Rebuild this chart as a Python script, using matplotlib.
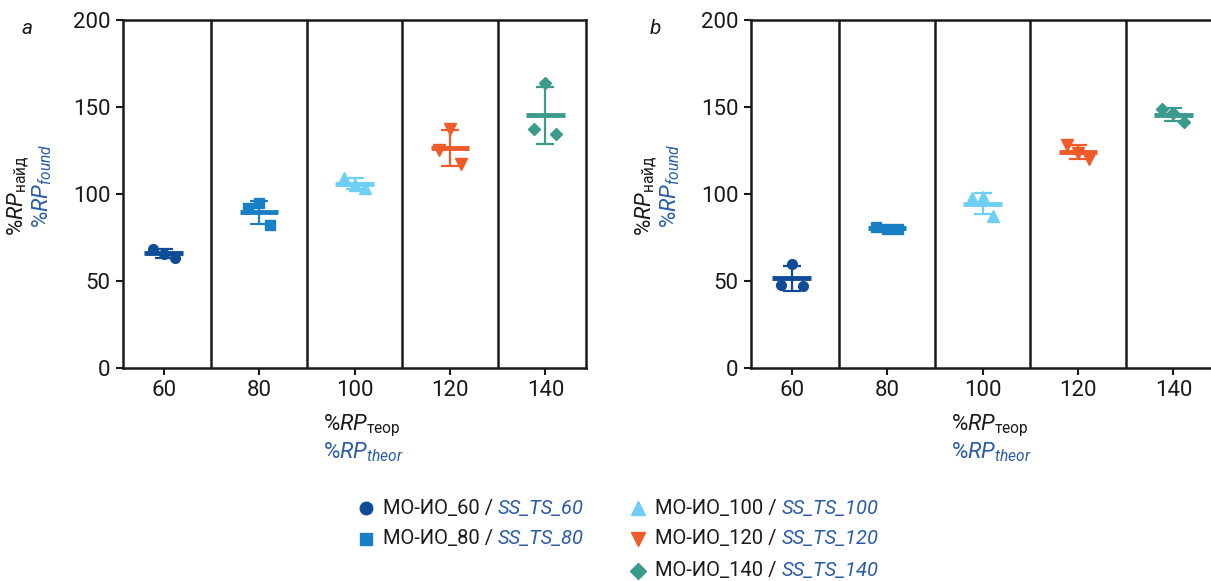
import numpy as np
import matplotlib
matplotlib.use("Agg")
import matplotlib.pyplot as plt

plt.rcParams['font.family'] = ['Roboto', 'DejaVu Sans']
plt.rcParams['mathtext.fontset'] = 'custom'
plt.rcParams['mathtext.rm'] = 'Roboto'
plt.rcParams['mathtext.it'] = 'Roboto:italic'

# theoretical levels, %
levels = [60, 80, 100, 120, 140]

# found values, three replicates per level
found_a = [[68.6, 65.8, 63.3],
           [91.7, 94.9, 82.1],
           [109.3, 104.9, 103.7],
           [125.2, 137.5, 117.0],
           [137.3, 164.0, 134.2]]
found_b = [[47.8, 59.7, 46.9],
           [81.1, 79.8, 79.8],
           [97.6, 98.0, 87.3],
           [128.0, 123.8, 120.4],
           [148.7, 146.4, 141.6]]

names_ru = ["МО-ИО_60", "МО-ИО_80", "МО-ИО_100", "МО-ИО_120", "МО-ИО_140"]
names_en = ["SS_TS_60", "SS_TS_80", "SS_TS_100", "SS_TS_120", "SS_TS_140"]
colors = ["#0f4c97", "#1a80c6", "#6dcff6", "#f15a29", "#3a9a8c"]
markers = ["o", "s", "^", "v", "D"]
msizes = [7, 7, 8, 8, 6]
dividers = [70, 90, 110, 130]

BLUE = "#2a5ca8"
W, H = 1211, 581

fig = plt.figure(figsize=(W / 100, H / 100), dpi=100)


def px(x, y):
    # pixel coords (top-left origin) -> figure fraction
    return x / W, 1 - y / H


def draw_panel(left_px, data):
    ax = fig.add_axes([left_px / W, 1 - 368 / H, 463 / W, 348 / H])
    for i, lev in enumerate(levels):
        vals = np.array(data[i])
        m = vals.mean()
        sd = vals.std(ddof=1)
        c = colors[i]
        ax.errorbar(lev, m, yerr=sd, fmt="none", ecolor=c, elinewidth=1.6,
                    capsize=6.5, capthick=1.6, zorder=3)
        ax.hlines(m, lev - 4, lev + 4, color=c, lw=3.5, zorder=3)
        ax.plot(lev + np.array([-2.3, 0, 2.3]), vals, ls="none",
                marker=markers[i], ms=msizes[i], color=c, mec=c, zorder=4)
    for d in dividers:
        ax.axvline(d, color="#1a1a1a", lw=1.8, zorder=1)
    ax.set_xlim(51.5, 148.5)
    ax.set_ylim(0, 200)
    ax.set_xticks(levels)
    ax.set_yticks([0, 50, 100, 150, 200])
    for s in ax.spines.values():
        s.set_linewidth(1.8)
        s.set_color("#1a1a1a")
    ax.tick_params(direction="out", length=5, width=1.5, labelsize=16,
                   colors="#1a1a1a", pad=4)
    return ax


ax_a = draw_panel(123, found_a)
ax_b = draw_panel(751, found_b)

ylab_k = r"$\mathit{\%RP}_{\mathrm{найд}}$"
ylab_b = r"$\mathit{\%RP}_{\mathit{found}}$"
xlab_k = r"$\mathit{\%RP}_{\mathrm{теор}}$"
xlab_b = r"$\mathit{\%RP}_{\mathit{theor}}$"

for off, letter in [(0, "a"), (628, "b")]:
    fig.text(*px(27 + off, 28), letter, fontsize=15, style="italic",
             ha="center", va="center", color="#1a1a1a")
    fig.text(*px(18 + off, 236), ylab_k, fontsize=16, rotation=90,
             ha="center", va="bottom", color="#1a1a1a")
    fig.text(*px(42 + off, 228), ylab_b, fontsize=16, rotation=90,
             ha="center", va="bottom", color=BLUE)
    fig.text(*px(323 + off, 426), xlab_k, fontsize=16, ha="left",
             va="center", color="#1a1a1a")
    fig.text(*px(323 + off, 452), xlab_b, fontsize=16, ha="left",
             va="center", color=BLUE)

# legend built by hand: black russian name, blue italic english name
leg_pos = [(366, 508), (366, 539), (638, 508), (638, 539), (638, 571)]
renderer = fig.canvas.get_renderer()
for i in range(5):
    mx, my = leg_pos[i]
    fig.lines.append(plt.Line2D([mx / W], [1 - my / H], transform=fig.transFigure,
                                marker=markers[i], ms=msizes[i] + 2, ls="none",
                                color=colors[i], mec=colors[i]))
    t = fig.text(*px(mx + 17, my), names_ru[i] + " /", fontsize=14.5,
                 ha="left", va="center", color="#1a1a1a")
    bb = t.get_window_extent(renderer)
    fig.text(bb.x1 / W + 5 / W, 1 - my / H, names_en[i], fontsize=14.5,
             style="italic", ha="left", va="center", color=BLUE)

fig.savefig("out.png", dpi=100)
